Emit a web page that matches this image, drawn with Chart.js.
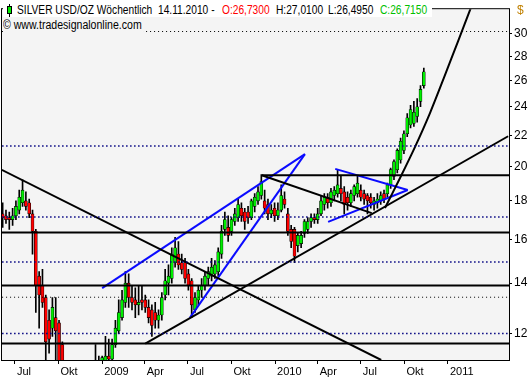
<!DOCTYPE html>
<html><head><meta charset="utf-8">
<script src="https://cdn.jsdelivr.net/npm/chart.js@4.4.0/dist/chart.umd.min.js"></script>
<style>
html,body{margin:0;padding:0;background:#fff;}
#wrap{position:relative;width:532px;height:380px;overflow:hidden;}
canvas{position:absolute;left:0;top:0;}
.t{position:absolute;white-space:pre;font-family:"Liberation Sans",Arial,sans-serif;font-size:12px;line-height:14px;color:#000;transform:scaleX(0.85);transform-origin:0 50%;}
</style></head><body>
<div id="wrap">
<canvas id="c" width="532" height="380"></canvas>
<div style="position:absolute;left:3px;top:3px;width:429px;height:14px;background:#fff;"></div>
<div style="position:absolute;left:9px;top:4px;width:1px;height:13px;background:#000;"></div>
<div style="position:absolute;left:7px;top:6px;width:3px;height:6px;background:#00ee00;border:1px solid #000;"></div>
<span class="t" style="left:17px;top:3px;">SILVER USD/OZ Wöchentlich</span>
<span class="t" style="left:158px;top:3px;">14.11.2010 -</span>
<span class="t" style="left:222px;top:3px;color:#ff0000;">O:26,7300</span>
<span class="t" style="left:276px;top:3px;">H:27,0100</span>
<span class="t" style="left:328px;top:3px;">L:26,4950</span>
<span class="t" style="left:380px;top:3px;color:#00c000;">C:26,7150</span>
<span class="t" style="left:3px;top:18px;background:#f4f4f4;padding-right:2px;transform:scaleX(0.88);">© www.tradesignalonline.com</span>
<span class="t" style="left:517px;top:3px;color:#c08000;transform:none;">$</span>
</div>
<script>
// weekly bars, first bar date, one bar per week
const weekStart = '2008-06-05';
const open  = [17.3,17.2,17.1,17.0,17.2,17.5,17.9,18.0,17.9,17.3,
  16.4,14.3,13.9,13.4,12.5,12.2,12.6,12.4,11.6,10.2,
  9.6,10.0,9.8,9.6,8.9,10.2,9.5,10.3,10.9,10.8,
  11.0,10.9,11.2,11.1,11.6,12.1,12.6,13.2,14.0,13.4,
  13.3,13.1,13.3,13.3,13.0,12.9,12.8,12.5,12.7,13.5,
  14.0,14.2,14.9,15.3,14.9,14.9,14.4,14.1,12.9,13.3,
  13.7,13.9,14.2,14.3,14.4,14.5,15.3,16.5,16.6,16.4,
  16.9,17.1,17.6,17.4,17.4,17.1,17.7,18.0,18.3,18.0,
  17.8,17.3,17.6,17.2,17.5,18.1,17.3,16.5,16.5,15.7,
  15.8,16.3,16.5,16.9,17.1,17.0,17.3,17.8,18.2,17.9,
  18.3,18.4,18.7,18.5,18.2,17.9,18.3,18.4,18.6,18.4,
  18.3,18.2,17.8,17.9,18.0,18.4,18.4,18.9,19.4,19.8,
  20.4,21.0,22.1,22.7,22.8,23.3,24.4,25.6];
const high  = [17.9,17.5,17.4,17.6,18.0,18.6,19.2,18.5,18.1,17.5,
  16.5,14.5,14.6,13.5,12.9,13.4,13.4,12.5,11.7,10.4,
  10.3,10.6,10.2,9.8,10.3,10.3,10.5,11.0,11.6,11.2,
  11.2,11.9,11.8,11.8,12.5,13.3,13.7,14.5,14.4,13.9,
  13.8,13.9,13.9,13.5,13.3,13.1,13.2,12.9,13.6,14.6,
  14.8,15.6,16.1,15.9,15.3,15.1,14.6,14.2,13.6,13.9,
  14.2,14.5,14.7,15.1,15.0,15.6,16.7,17.4,17.2,17.1,
  17.6,18.1,17.9,17.6,17.7,18.1,18.4,18.8,19.5,18.6,
  18.1,17.8,17.9,17.9,18.9,18.5,17.6,16.7,16.6,16.3,
  16.4,17.0,17.1,17.3,17.3,17.6,18.3,18.4,18.4,18.7,
  18.8,19.8,19.4,18.8,18.5,18.6,18.9,19.4,18.9,18.6,
  18.4,18.4,18.2,18.4,18.5,18.6,19.0,19.9,20.4,21.1,
  21.8,22.3,23.5,24.1,24.4,24.6,25.6,27.0];
const low   = [16.6,16.8,16.5,16.7,17.0,17.3,17.7,17.5,17.1,15.3,
  12.8,12.2,13.0,11.0,11.3,11.9,10.8,10.6,9.8,9.3,
  8.8,9.4,9.3,8.5,8.8,9.2,9.4,10.2,10.6,10.6,
  10.8,10.8,10.9,11.0,11.5,12.0,12.5,13.0,13.0,12.9,
  12.6,12.7,12.9,12.8,12.4,11.9,12.2,12.2,12.5,13.3,
  13.5,14.0,14.7,14.6,14.4,14.0,13.7,12.6,12.8,13.1,
  13.4,13.7,13.9,14.1,14.2,14.3,15.1,16.2,15.9,16.2,
  16.7,16.9,16.9,16.5,16.8,17.0,17.4,17.8,18.1,17.3,
  17.0,17.1,16.9,17.0,17.4,17.6,16.2,15.6,14.9,15.4,
  15.6,16.1,16.3,16.6,16.8,16.8,17.2,17.5,17.6,17.7,
  18.0,18.2,18.0,17.3,17.5,17.7,18.0,18.2,18.0,17.8,
  17.3,17.6,17.5,17.6,17.8,17.9,18.2,18.7,19.2,19.6,
  20.2,20.8,21.9,22.5,22.6,22.9,24.0,25.4];
const close = [17.1,17.0,17.0,17.2,17.7,18.2,18.6,17.7,17.3,16.4,
  13.9,13.5,13.2,11.7,11.8,13.0,12.1,10.9,10.2,9.5,
  10.0,9.8,9.6,8.9,10.2,9.5,10.3,10.9,10.8,11.0,
  11.15,11.2,11.1,11.6,12.2,12.8,13.3,14.0,13.4,13.2,
  13.1,13.2,13.2,13.0,12.6,12.3,12.5,12.7,13.4,14.1,
  14.3,15.3,15.6,14.8,14.6,14.2,13.9,13.1,13.4,13.7,
  13.9,14.3,14.5,14.7,14.8,15.4,16.4,17.0,16.2,17.0,
  17.3,17.8,17.2,16.9,17.1,18.0,18.2,18.5,19.1,17.6,
  17.3,17.5,17.2,17.5,18.3,17.8,16.4,15.9,15.2,16.2,
  16.2,16.9,16.9,17.1,17.0,17.3,18.0,18.2,17.9,18.5,
  18.6,18.9,18.4,17.8,17.9,18.4,18.8,19.0,18.2,18.1,
  18.0,17.9,18.0,18.1,18.3,18.1,18.9,19.8,20.3,21.0,
  21.6,22.1,23.2,23.8,23.6,24.0,25.3,26.7];

const xTickDates  = ['2008-07-01','2008-10-01','2009-01-01','2009-04-01','2009-07-01','2009-10-01','2010-01-01','2010-04-01','2010-07-01','2010-10-01','2011-01-01'];
const xTickLabels = ['Jul','Okt','2009','Apr','Jul','Okt','2010','Apr','Jul','Okt','2011'];
const yTicks = [12,14,16,18,20,22,24,26,28,30];

// horizontal levels
const solidLevels    = [16.34, 13.90, 11.64];
const navyDotLevels  = [21.28, 17.14, 14.93, 12.00];
const blackDotLevels = [30.2, 13.41];

// trend lines, [date, price] pairs
const blackTrends = [
  [['2008-06-03',19.79],['2010-08-13',11.07]],
  [['2009-12-04',19.47],['2010-07-24',17.34]],
  [['2009-12-04',19.47],['2011-06-30',19.47]],
  [['2009-04-02',11.64],['2011-05-08',21.93]]
];
const blackCurve = [['2010-08-21',17.61],['2010-09-21',19.26],['2010-10-23',21.2],['2010-11-24',23.54],['2010-12-25',26.37],['2011-01-22',29.29],['2011-02-18',32.43]];
const blueTrends = [
  [['2009-01-01',13.79],['2010-03-05',20.76]],
  [['2009-07-05',12.59],['2010-03-05',20.76]],
  [['2010-05-08',19.85],['2010-10-08',18.61]],
  [['2010-04-23',16.88],['2010-10-08',18.61]]
];

const day = s => Date.UTC(+s.slice(0,4), +s.slice(5,7)-1, +s.slice(8,10)) / 864e5;
const ref = day('2008-07-01');
const xMin = ref - 27.4, xMax = ref + 1042.8;
const x0 = day(weekStart);
const xs = open.map((_, i) => x0 + 7 * i);

const datasets = [];
const lineDs = (pts, color, width, dash, order) => ({
  type: 'line', data: pts.map(p => ({x: day(p[0]), y: p[1]})),
  borderColor: color, borderWidth: width, borderDash: dash || [],
  pointRadius: 0, fill: false, tension: 0, order: order, clip: 0
});
blackDotLevels.forEach(v => datasets.push(lineDs([['2008-05-01',v],['2011-06-30',v]], '#000', 1, [1,3], 0)));
navyDotLevels.forEach(v => datasets.push(lineDs([['2008-05-01',v],['2011-06-30',v]], '#000080', 1.5, [1.5,2.5], 0)));
solidLevels.forEach(v => datasets.push(lineDs([['2008-05-01',v],['2011-06-30',v]], '#000', 2, null, 0)));
blackTrends.forEach(t => datasets.push(lineDs(t, '#000', 2, null, 0)));
const cv = lineDs(blackCurve, '#000', 2, null, 0); cv.tension = 0.3; datasets.push(cv);
blueTrends.forEach(t => datasets.push(lineDs(t, '#0a0aff', 2, null, 0)));

datasets.push({
  type: 'bar', data: xs.map((x, i) => ({x, y: [open[i], close[i]]})),
  backgroundColor: xs.map((_, i) => close[i] >= open[i] ? '#00ee00' : '#ff0000'),
  borderColor: '#000', borderWidth: 0.6, borderSkipped: false,
  barThickness: 3, grouped: false, order: 1, clip: 0
});
datasets.push({
  type: 'bar', data: xs.map((x, i) => ({x, y: [low[i], high[i]]})),
  backgroundColor: '#000', borderWidth: 0, barThickness: 1, grouped: false, order: 2, clip: 0
});

const frame = {
  id: 'frame',
  beforeDraw(chart) {
    const {ctx, chartArea: a} = chart;
    ctx.save();
    ctx.fillStyle = '#fff'; ctx.fillRect(0, 0, chart.width, chart.height);
    ctx.fillStyle = '#f4f4f4'; ctx.fillRect(a.left, a.top, a.right - a.left, a.bottom - a.top);
    ctx.restore();
  },
  afterDraw(chart) {
    const {ctx, chartArea: a} = chart;
    ctx.save(); ctx.strokeStyle = '#000'; ctx.lineWidth = 1;
    ctx.strokeRect(a.left - 0.5, a.top - 0.5, a.right - a.left + 1, a.bottom - a.top + 1);
    ctx.restore();
  }
};

new Chart(document.getElementById('c'), {
  type: 'bar',
  data: {datasets},
  plugins: [frame],
  options: {
    responsive: false, animation: false, devicePixelRatio: 1,
    layout: {padding: {left: 2, top: 2, right: 0, bottom: 0}},
    plugins: {legend: {display: false}, tooltip: {enabled: false}},
    scales: {
      x: {
        type: 'linear', position: 'bottom', min: xMin, max: xMax, offset: false,
        afterBuildTicks: s => { s.ticks = xTickDates.map(d => ({value: day(d)})); },
        afterFit: s => { s.height = 20; },
        ticks: {autoSkip: false, maxRotation: 0, minRotation: 0, align: 'start', labelOffset: 2, padding: 1,
          color: '#000', font: {family: 'Liberation Sans', size: 11},
          callback: (v, i) => xTickLabels[i]},
        grid: {offset: false, drawOnChartArea: false, drawTicks: true, tickLength: 4, tickColor: '#000'},
        border: {display: true, color: '#000'}
      },
      y: {
        type: 'logarithmic', position: 'right', min: 11.07, max: 32.33,
        afterBuildTicks: s => { s.ticks = yTicks.map(v => ({value: v})); },
        afterFit: s => { s.width = 23; },
        ticks: {padding: 2, color: '#000', font: {family: 'Liberation Sans', size: 12},
          callback: v => String(v)},
        grid: {drawOnChartArea: false, drawTicks: true, tickLength: 3, tickColor: '#000'},
        border: {display: true, color: '#000'}
      }
    }
  }
});
</script>
</body></html>
